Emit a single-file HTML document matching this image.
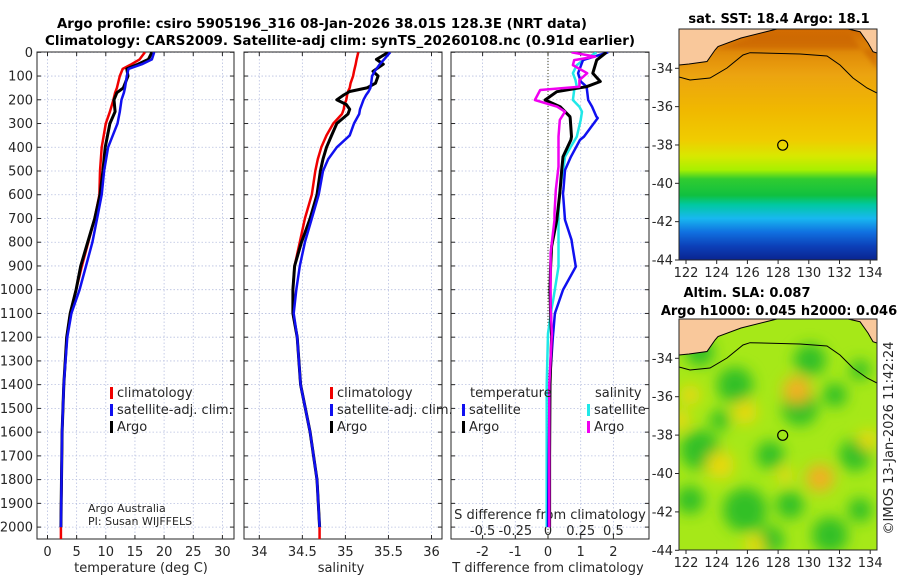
<!DOCTYPE html>
<html><head><meta charset="utf-8"><style>
html,body{margin:0;padding:0;background:#fff}
svg{display:block;font-family:"DejaVu Sans","Liberation Sans",sans-serif}
</style></head><body>
<svg id="fig" xmlns="http://www.w3.org/2000/svg" width="900" height="580" viewBox="0 0 900 580">
<defs>
<clipPath id="c1"><rect x="37" y="52" width="197" height="487"/></clipPath>
<clipPath id="c2"><rect x="244" y="52" width="198" height="487"/></clipPath>
<clipPath id="c3"><rect x="451" y="52" width="198" height="487"/></clipPath>
<clipPath id="cm1"><rect x="679" y="29" width="198" height="231"/></clipPath>
<clipPath id="cm2"><rect x="679" y="319" width="198" height="231"/></clipPath>
<filter id="blur" x="-20%" y="-20%" width="140%" height="140%"><feGaussianBlur stdDeviation="7"/></filter>
<filter id="blur2" x="-5%" y="-5%" width="110%" height="110%"><feGaussianBlur stdDeviation="2.5"/></filter>
<linearGradient id="sst" x1="0" y1="0" x2="0" y2="1">
<stop offset="0" stop-color="#d06800"/><stop offset="0.1" stop-color="#e08a08"/>
<stop offset="0.2" stop-color="#eca410"/><stop offset="0.35" stop-color="#f0b800"/>
<stop offset="0.48" stop-color="#f0cc00"/><stop offset="0.55" stop-color="#d8e800"/>
<stop offset="0.61" stop-color="#a8f000"/><stop offset="0.65" stop-color="#30cc30"/>
<stop offset="0.72" stop-color="#10c040"/><stop offset="0.76" stop-color="#00c8a0"/>
<stop offset="0.82" stop-color="#18b8f0"/><stop offset="0.88" stop-color="#1070e0"/>
<stop offset="0.94" stop-color="#0c40b8"/><stop offset="1" stop-color="#0a2490"/></linearGradient>
</defs>
<g id="layer"></g>
</svg>
<script>
// ---- data (depth in m) ----
const tDepth=[0,30,50,70,100,150,170,200,250,300,400,500,600,700,800,900,1000,1100,1200,1400,1600,1800,2000];
const tArgo=[17.9,17.3,15.5,13.6,13.8,13.0,11.9,11.4,11.6,10.7,9.9,9.5,9.0,8.1,6.9,5.7,4.9,3.9,3.3,2.8,2.5,2.4,2.3];
const tClim=[16.7,15.8,14.4,12.9,12.4,11.9,11.6,11.3,10.7,10.0,9.3,9.0,8.9,8.1,7.0,5.9,4.9,3.9,3.3,2.8,2.5,2.4,2.3];
const tSat=[18.3,17.9,16.2,13.9,13.6,13.3,13.1,12.7,12.4,12.0,10.4,9.7,9.3,8.5,7.7,6.6,5.5,4.1,3.4,2.8,2.5,2.4,2.3];
const sDepth=[0,30,50,80,100,130,150,165,180,200,220,240,260,300,350,400,450,500,600,700,800,900,1000,1100,1200,1400,1600,1800,2000];
const sArgo=[35.5,35.36,35.44,35.32,35.38,35.35,35.25,35.05,34.98,34.9,35.01,35.05,35.03,34.9,34.84,34.78,34.74,34.71,34.67,34.59,34.49,34.41,34.39,34.39,34.44,34.48,34.59,34.67,34.70];
const sClim=[35.15,35.13,35.12,35.1,35.09,35.06,35.05,35.03,35.02,35.01,34.99,34.98,34.96,34.86,34.78,34.72,34.68,34.65,34.61,34.53,34.47,34.41,34.39,34.39,34.44,34.48,34.59,34.67,34.70];
const sSat=[35.52,35.45,35.40,35.34,35.31,35.30,35.29,35.27,35.24,35.21,35.19,35.17,35.16,35.1,35.05,34.90,34.80,34.74,34.69,34.61,34.53,34.47,34.43,34.40,34.44,34.48,34.59,34.67,34.70];
const dDepthT=[0,33,88,123,145,166,201,229,271,277,355,369,440,496,580,594,706,790,818,903,1001,1100,1198,1400,1700,2000];
const dTSat=[1.84,1.07,0.92,1.0,1.18,1.2,1.23,1.35,1.48,1.52,1.1,0.98,0.7,0.52,0.47,0.46,0.52,0.72,0.75,0.85,0.46,0.21,0.15,0.05,0.02,0];
const dTArgo=[1.79,1.49,1.37,1.6,1.18,0.27,-0.09,0.37,0.67,0.68,0.72,0.7,0.46,0.42,0.37,0.36,0.27,0.15,0.11,0.08,0.06,0.08,0.11,0.06,0.05,0.05];
const dDepthS=[0,18,33,54,88,117,145,159,201,229,250,285,355,440,482,580,678,706,847,903,1043,1072,1184,1400,1700,2000];
const dSSat=[0.37,0.32,0.27,0.22,0.19,0.21,0.22,0.2,0.19,0.24,0.26,0.25,0.22,0.13,0.12,0.09,0.08,0.08,0.08,0.08,0.04,0.03,0,-0.01,-0.01,-0.01];
const dSArgo=[0.18,0.36,0.2,0.19,0.30,0.24,0.24,-0.06,-0.1,0.07,0.13,0.09,0.08,0.08,0.08,0.06,0.05,0.05,0.02,0.02,0.02,0.02,0.03,0.01,0.01,0.01];
const depthTicks=[0,100,200,300,400,500,600,700,800,900,1000,1100,1200,1300,1400,1500,1600,1700,1800,1900,2000];
const tTicks=[0,5,10,15,20,25,30];
const sTicks=[34,34.5,35,35.5,36];
const dTTicks=[-2,-1,0,1,2];
const dSTicks=[-0.5,-0.25,0,0.25,0.5];
const dSTickLabels=["-0.5","-0.25","0","0.25","0.5"];
const latTicks=[-34,-36,-38,-40,-42,-44];
const lonTicks=[122,124,126,128,130,132,134];
const argoLon=128.3, argoLat=-38.01;

// ---- scales ----
const yD=d=>52.3+d*0.2374;
const xT=t=>47.5+t*5.83;
const xS=s=>259.3+(s-34)*86.1;
const xDT=v=>548+v*32.7;
const xDS=v=>548+v*130.8;
const xLon=l=>686+(l-122)*15.35;
const yLat1=l=>68.3+(-34-l)*19.17;
const yLat2=l=>358.3+(-34-l)*19.2;

const NS="http://www.w3.org/2000/svg";
const L=document.getElementById('layer');
function mk(tag,attrs,parent){const e=document.createElementNS(NS,tag);for(const k in attrs)e.setAttribute(k,attrs[k]);(parent||L).appendChild(e);return e;}
function txt(x,y,s,attrs,parent){const e=mk('text',Object.assign({x:x,y:y,'font-size':13,fill:'#262626'},attrs||{}),parent);e.textContent=s;return e;}

let e;
e=txt(322,28,"Argo profile: csiro 5905196_316 08-Jan-2026 38.01S 128.3E (NRT data)",{'font-weight':'bold','text-anchor':'middle','font-size':13.5,fill:'#000',textLength:530,lengthAdjust:'spacingAndGlyphs'});


e=txt(340,45,"Climatology: CARS2009. Satellite-adj clim: synTS_20260108.nc (0.91d earlier)",{'font-weight':'bold','text-anchor':'middle','font-size':13.5,fill:'#000',textLength:590,lengthAdjust:'spacingAndGlyphs'});



const panels=[{x0:37,x1:234,clip:'c1',vt:tTicks.map(xT),name:'temperature-panel'},{x0:244,x1:442,clip:'c2',vt:sTicks.map(xS),name:'salinity-panel'},{x0:451,x1:649,clip:'c3',vt:dTTicks.map(xDT),name:'difference-panel'}];
panels.forEach(p=>{
  const g=mk('g',{});
  
  
  mk('rect',{x:p.x0,y:52,width:p.x1-p.x0,height:487,fill:'#fff'},g);
  depthTicks.forEach(d=>{mk('line',{x1:p.x0,x2:p.x1,y1:yD(d),y2:yD(d),stroke:'#b8c0e0','stroke-width':0.8,'stroke-dasharray':'1.5,2'},g);
    mk('line',{x1:p.x0,x2:p.x0+4,y1:yD(d),y2:yD(d),stroke:'#262626'},g);mk('line',{x1:p.x1,x2:p.x1-4,y1:yD(d),y2:yD(d),stroke:'#262626'},g);});
  p.vt.forEach(x=>{mk('line',{x1:x,x2:x,y1:52,y2:539,stroke:'#b8c0e0','stroke-width':0.8,'stroke-dasharray':'1.5,2'},g);
    mk('line',{x1:x,x2:x,y1:539,y2:535,stroke:'#262626'},g);mk('line',{x1:x,x2:x,y1:52,y2:56,stroke:'#262626'},g);});
  mk('rect',{x:p.x0,y:52,width:p.x1-p.x0,height:487,fill:'none',stroke:'#262626','stroke-width':1},g);
});
mk('line',{x1:xDT(0),x2:xDT(0),y1:52,y2:539,stroke:'#404020','stroke-width':1,'stroke-dasharray':'1,2'});

depthTicks.forEach(d=>{e=txt(33,yD(d)+4.5,String(d),{'text-anchor':'end'});

});
tTicks.forEach(t=>{e=txt(xT(t),556,String(t),{'text-anchor':'middle'});

});
sTicks.forEach(s=>{e=txt(xS(s),556,String(s),{'text-anchor':'middle'});

});
dTTicks.forEach(v=>{e=txt(xDT(v),556,String(v),{'text-anchor':'middle'});

});
dSTicks.forEach((v,i)=>{e=txt(xDS(v),535,dSTickLabels[i],{'text-anchor':'middle'});

});
e=txt(141,572,"temperature (deg C)",{'text-anchor':'middle'});


e=txt(341,572,"salinity",{'text-anchor':'middle'});


e=txt(548,572,"T difference from climatology",{'text-anchor':'middle'});


e=txt(550,519,"S difference from climatology",{'text-anchor':'middle'});



function line(xs,ds,fx,color,w,clip,name){
  const d=xs.map((v,i)=>(i?'L':'M')+fx(v).toFixed(1)+','+yD(ds[i]).toFixed(1)).join('');
  const p=mk('path',{d:d,fill:'none',stroke:color,'stroke-width':w,'stroke-linejoin':'round','clip-path':'url(#'+clip+')'});
  
  
}
line(tClim,tDepth,xT,'#f00000',2.5,'c1','temperature-climatology-line');
mk('line',{x1:xT(tClim[tClim.length-1]),x2:xT(tClim[tClim.length-1]),y1:yD(2000),y2:539,stroke:'#f00000','stroke-width':2.5});
line(tArgo,tDepth,xT,'#000',3,'c1','temperature-argo-line');
line(tSat,tDepth,xT,'#1010f0',2.5,'c1','temperature-satellite-line');
line(sClim,sDepth,xS,'#f00000',2.5,'c2','salinity-climatology-line');
mk('line',{x1:xS(sClim[sClim.length-1]),x2:xS(sClim[sClim.length-1]),y1:yD(2000),y2:539,stroke:'#f00000','stroke-width':2.5});
line(sArgo,sDepth,xS,'#000',3,'c2','salinity-argo-line');
line(sSat,sDepth,xS,'#1010f0',2.5,'c2','salinity-satellite-line');
line(dSSat,dDepthS,xDS,'#20e8e8',2.5,'c3','s-diff-satellite-line');
line(dTSat,dDepthT,xDT,'#1010f0',2.5,'c3','t-diff-satellite-line');
line(dTArgo,dDepthT,xDT,'#000',3,'c3','t-diff-argo-line');
line(dSArgo,dDepthS,xDS,'#f000f0',2.5,'c3','s-diff-argo-line');

function legend(x,y,color,label,name){
  const g=mk('g',{});
  
  
  mk('rect',{x:x,y:y-10,width:3,height:12,fill:color},g);
  txt(x+7,y,label,{},g);
}
legend(110,397,'#f00000','climatology','legend-temp-climatology');
legend(110,414,'#1010f0','satellite-adj. clim.','legend-temp-satellite');
legend(110,431,'#000','Argo','legend-temp-argo');
legend(330,397,'#f00000','climatology','legend-sal-climatology');
legend(330,414,'#1010f0','satellite-adj. clim.','legend-sal-satellite');
legend(330,431,'#000','Argo','legend-sal-argo');
e=txt(470,397,'temperature',{});


e=txt(595,397,'salinity',{});


legend(462,414,'#1010f0','satellite','legend-tdiff-satellite');
legend(462,431,'#000','Argo','legend-tdiff-argo');
legend(587,414,'#20e8e8','satellite','legend-sdiff-satellite');
legend(587,431,'#f000f0','Argo','legend-sdiff-argo');
e=txt(88,512,'Argo Australia',{'font-size':11});


e=txt(88,525,'PI: Susan WIJFFELS',{'font-size':11});



// ---- maps ----
const land1="M0,0 L98,0 L88,2.5 L62,9 L39,17.5 L36,21 L28,32.5 L10,35 L0,36 Z M169,0 L198,0 L198,24 L194,22.7 L189,14 L181,2.7 Z";
const coast="M0,36 L10,35 L28,32.5 L36,21 L39,17.5 L62,9 L88,2.5 L98,0 M169,0 L181,2.7 L189,14 L194,22.7 L198,24";
const iso="M0,48 L11,51 L31,49 L48,39 L64,26 L71,23.7 L121,25 L148,27 L161,36 L174,49 L188,59 L198,64";
function map(oy,clip,yLat,name,sst){
  const g=mk('g',{'clip-path':'url(#'+clip+')'});
  
  
  if(sst){
    mk('rect',{x:679,y:oy,width:198,height:231,fill:'url(#sst)'},g);
    const fg=mk('g',{filter:'url(#blur2)'},g);
    mk('path',{d:'M679,'+(oy+36)+' L715,'+(oy+20)+' L760,'+(oy+5)+' L850,'+(oy+5)+' L877,'+(oy+40)+' L877,'+(oy+20)+' L679,'+(oy+20)+'Z',fill:'#c86000',opacity:0.6},fg);
  } else {
    mk('rect',{x:679,y:oy,width:198,height:231,fill:'#a6e818'},g);
    const fg=mk('g',{filter:'url(#blur)'},g);
    const G='#30c028', Y='#e8d810', O='#f0b020';
    const blobs=[[735,385,G,18],[700,352,G,14],[810,360,G,16],[800,408,G,18],[835,395,G,12],[770,455,G,14],[700,450,G,20],[690,500,G,14],[745,510,G,22],[790,505,G,14],[855,455,G,16],[770,540,G,14],[830,535,G,18],[860,510,G,12],[720,420,G,10],[860,370,G,10],
      [797,390,O,14],[690,395,Y,10],[745,412,Y,12],[720,465,Y,14],[820,478,O,14],[755,545,Y,10],[868,440,Y,10],[785,475,Y,8],[680,420,Y,10]];
    blobs.forEach(b=>mk('circle',{cx:b[0],cy:b[1],r:b[3],fill:b[2]},fg));
  }
  mk('path',{d:land1,transform:'translate(679,'+oy+')',fill:'#f9c89b'},g);
  mk('path',{d:coast,transform:'translate(679,'+oy+')',fill:'none',stroke:'#000','stroke-width':1},g);
  mk('path',{d:iso,transform:'translate(679,'+oy+')',fill:'none',stroke:'#000','stroke-width':1},g);
  const c=mk('circle',{cx:xLon(argoLon),cy:yLat(argoLat),r:5,fill:'none',stroke:'#000','stroke-width':1.2},g);
  
  
  mk('rect',{x:679,y:oy,width:198,height:231,fill:'none',stroke:'#262626'});
  latTicks.forEach(l=>{e=txt(673,yLat(l)+4.5,String(l),{'text-anchor':'end'});
  
  
  mk('line',{x1:675,x2:679,y1:yLat(l),y2:yLat(l),stroke:'#262626'});});
  lonTicks.forEach(l=>{e=txt(xLon(l),oy+248,String(l),{'text-anchor':'middle'});
  
  
  mk('line',{x1:xLon(l),x2:xLon(l),y1:oy+231,y2:oy+235,stroke:'#262626'});});
}
map(29,'cm1',yLat1,'sst-map',true);
map(319,'cm2',yLat2,'sla-map',false);
e=txt(779,23,'sat. SST: 18.4 Argo: 18.1',{'font-weight':'bold','text-anchor':'middle','font-size':13,fill:'#000'});


e=txt(747,297,'Altim. SLA: 0.087',{'font-weight':'bold','text-anchor':'middle','font-size':13,fill:'#000'});


e=txt(779,315,'Argo h1000: 0.045 h2000: 0.046',{'font-weight':'bold','text-anchor':'middle','font-size':13,fill:'#000'});


e=txt(0,0,'©IMOS 13-Jan-2026 11:42:24',{'text-anchor':'middle','transform':'translate(893,438) rotate(-90)'});


</script>
</body></html>
